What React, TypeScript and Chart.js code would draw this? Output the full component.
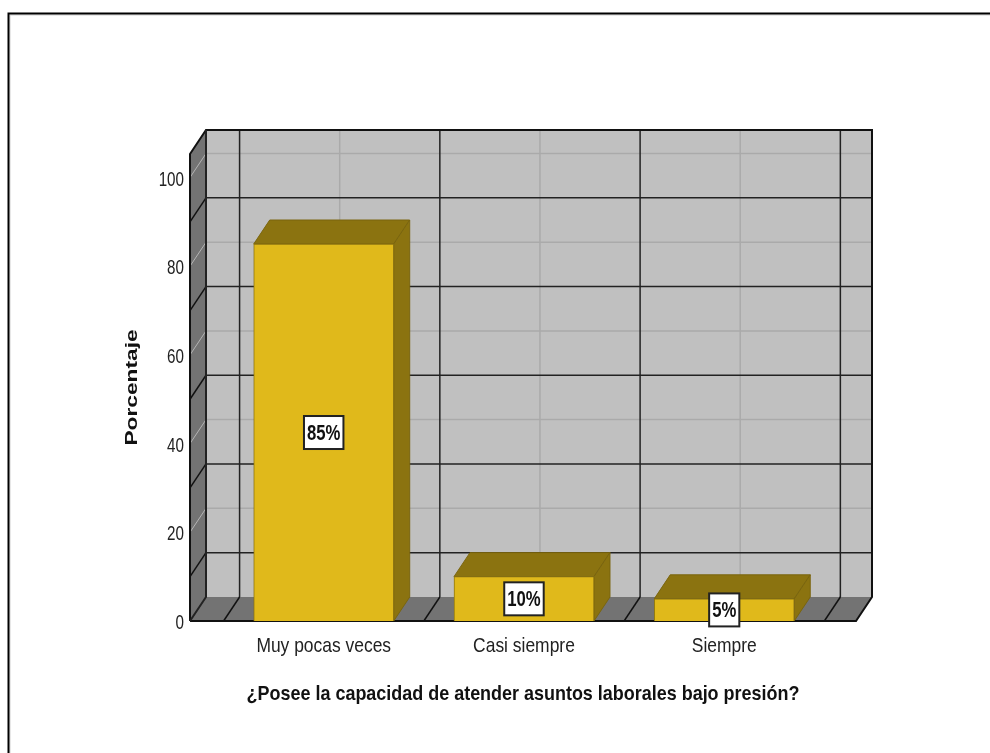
import React, { useEffect, useRef } from "react";
import { Chart, registerables } from "chart.js";

Chart.register(...registerables);

const categories = ["Muy pocas veces", "Casi siempre", "Siempre"];
const values = [85, 10, 5];
const valueLabels = ["85%", "10%", "5%"];
const yTicks = [0, 20, 40, 60, 80, 100];
const yDarkLines = [10, 30, 50, 70, 90];
const yLightLines = [20, 40, 60, 80, 100];
const xDarkLines = [-0.5, 0.5, 1.5, 2.5];
const xLightLines = [0, 1, 2];
const xTitle = "¿Posee la capacidad de atender asuntos laborales bajo presión?";
const yTitle = "Porcentaje";

const DX = 16;
const DY = -24;
const FONT = '"Liberation Sans", sans-serif';

// The reference uses a condensed face that is not installed: stretch text along its own baseline.
const stretchFor = (t: string) => {
  if (t === yTitle) return 1.42;
  if (t === xTitle) return 0.855;
  if (categories.includes(t)) return 0.83;
  return 0.76;
};
const condense = (ctx: any) => {
  if (ctx.__condensed) return;
  ctx.__condensed = true;
  const orig = ctx.fillText.bind(ctx);
  ctx.fillText = (t: string, x: number, y: number, m?: number) => {
    const isTick = yTicks.map(String).includes(String(t));
    ctx.save();
    ctx.translate(x, y + (isTick ? 2.5 : 0));
    ctx.scale(stretchFor(String(t)), 1);
    if (m === undefined) orig(t, 0, 0);
    else orig(t, 0, 0, m);
    ctx.restore();
  };
};

const poly = (ctx: CanvasRenderingContext2D, pts: number[][], fill?: string, stroke?: string, lw = 1) => {
  ctx.beginPath();
  pts.forEach((p, i) => (i ? ctx.lineTo(p[0], p[1]) : ctx.moveTo(p[0], p[1])));
  if (fill) {
    ctx.closePath();
    ctx.fillStyle = fill;
    ctx.fill();
  }
  if (stroke) {
    ctx.strokeStyle = stroke;
    ctx.lineWidth = lw;
    ctx.stroke();
  }
};

const scene = {
  id: "scene",
  beforeDatasetsDraw(chart: any) {
    const { ctx, chartArea: a, scales } = chart;
    const x = scales.x;
    const y = scales.y;
    ctx.save();
    // outer frame
    poly(ctx, [[10, 753], [10, 15], [990, 15]], undefined, "#cfcfcf", 1);
    poly(ctx, [[8.5, 753], [8.5, 13.5], [990, 13.5]], undefined, "#000", 2);
    const L = a.left, R = a.right, T = a.top, B = a.bottom;
    // walls
    poly(ctx, [[L + DX, T + DY], [R + DX, T + DY], [R + DX, B + DY], [L + DX, B + DY]], "#c0c0c0");
    poly(ctx, [[L, T], [L + DX, T + DY], [L + DX, B + DY], [L, B]], "#737373");
    poly(ctx, [[L, B], [L + DX, B + DY], [R + DX, B + DY], [R, B]], "#737373");
    // light lines
    yLightLines.forEach((v) => {
      const p = y.getPixelForValue(v);
      poly(ctx, [[L, p], [L + DX, p + DY]], undefined, "#b4b4b4", 1);
      poly(ctx, [[L + DX, p + DY], [R + DX, p + DY]], undefined, "#aaaaaa", 1.5);
    });
    xLightLines.forEach((v) => {
      const p = x.getPixelForValue(v);
      poly(ctx, [[p + DX, T + DY], [p + DX, B + DY]], undefined, "#aaaaaa", 1.5);
      poly(ctx, [[p, B], [p + DX, B + DY]], undefined, "#808080", 1);
    });
    // dark lines
    yDarkLines.forEach((v) => {
      const p = y.getPixelForValue(v);
      poly(ctx, [[L, p], [L + DX, p + DY]], undefined, "#111", 1.5);
      poly(ctx, [[L + DX, p + DY], [R + DX, p + DY]], undefined, "#222", 1.5);
    });
    xDarkLines.forEach((v) => {
      const p = x.getPixelForValue(v);
      poly(ctx, [[p + DX, T + DY], [p + DX, B + DY]], undefined, "#222", 1.5);
      poly(ctx, [[p, B], [p + DX, B + DY]], undefined, "#111", 1.5);
    });
    // frame edges
    poly(ctx, [[L, B], [L, T], [L + DX, T + DY], [R + DX, T + DY], [R + DX, B + DY], [R, B], [L, B]], undefined, "#111", 2);
    poly(ctx, [[L + DX, T + DY], [L + DX, B + DY], [L, B]], undefined, "#222", 2);
    // 3D sides of the bars
    chart.getDatasetMeta(0).data.forEach((bar: any) => {
      const hw = bar.width / 2;
      const l = bar.x - hw, r = bar.x + hw, t = bar.y, b = bar.base;
      poly(ctx, [[l, t], [l + DX, t + DY], [r + DX, t + DY], [r, t]], "#8b7310", "#7a650e", 1);
      poly(ctx, [[r, t], [r + DX, t + DY], [r + DX, b + DY], [r, b]], "#8b7310", "#7a650e", 1);
    });
    ctx.restore();
  },
  afterDatasetsDraw(chart: any) {
    const { ctx } = chart;
    ctx.save();
    chart.getDatasetMeta(0).data.forEach((bar: any, i: number) => {
      const text = valueLabels[i];
      const cy = (bar.y + bar.base) / 2;
      ctx.font = `bold 22px ${FONT}`;
      const w = ctx.measureText(text).width * stretchFor(text) + 6;
      const h = 33;
      ctx.fillStyle = "#fff";
      ctx.fillRect(bar.x - w / 2, cy - h / 2, w, h);
      ctx.strokeStyle = "#222";
      ctx.lineWidth = 2;
      ctx.strokeRect(bar.x - w / 2, cy - h / 2, w, h);
      ctx.fillStyle = "#111";
      ctx.textAlign = "center";
      ctx.textBaseline = "middle";
      ctx.fillText(text, bar.x, cy + 1);
    });
    ctx.restore();
  },
};

export default function App() {
  const ref = useRef<HTMLCanvasElement>(null);
  useEffect(() => {
    condense(ref.current!.getContext("2d"));
    const chart = new Chart(ref.current!, {
      type: "bar",
      data: {
        datasets: [
          {
            data: values.map((v, i) => ({ x: i, y: v })),
            backgroundColor: "#e0b91b",
            borderColor: "#8b7310",
            borderWidth: 1,
            barThickness: 140,
          },
        ],
      },
      plugins: [scene],
      options: {
        animation: false,
        responsive: false,
        layout: { padding: { left: 123, top: 154, right: 134, bottom: 46 } },
        plugins: { legend: { display: false }, tooltip: { enabled: false } },
        scales: {
          x: {
            type: "linear",
            offset: false,
            min: -0.6677,
            max: 2.658,
            grid: { display: false, drawTicks: false, offset: false },
            border: { display: false },
            afterFit: (s: any) => { s.height = 86; },
            afterBuildTicks: (s: any) => { s.ticks = categories.map((_, i) => ({ value: i })); },
            ticks: {
              autoSkip: false,
              maxRotation: 0,
              padding: 13,
              color: "#222",
              font: { family: FONT, size: 21 },
              callback: (v: any) => categories[v],
            },
            title: {
              display: true,
              text: xTitle,
              color: "#111",
              padding: 0,
              font: { family: FONT, size: 21, weight: "bold" },
            },
          },
          y: {
            min: 0,
            max: 105.3,
            grid: { display: false, drawTicks: false },
            border: { display: false },
            afterFit: (s: any) => { s.width = 67; },
            afterBuildTicks: (s: any) => { s.ticks = yTicks.map((value) => ({ value })); },
            ticks: {
              padding: 6,
              color: "#222",
              font: { family: FONT, size: 20 },
            },
            title: {
              display: true,
              text: yTitle,
              color: "#111",
              padding: 0,
              font: { family: FONT, size: 16, weight: "bold" },
            },
          },
        },
      },
    } as any);
    return () => chart.destroy();
  }, []);
  return (
    <div style={{ position: "absolute", left: 0, top: 0, width: 990, height: 753, background: "#fff", overflow: "hidden" }}>
      <canvas ref={ref} width={990} height={753} style={{ display: "block" }} />
    </div>
  );
}
